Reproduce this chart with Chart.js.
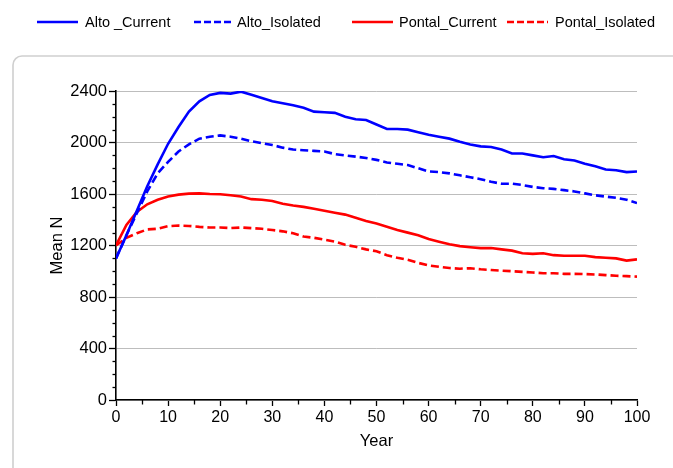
<!DOCTYPE html>
<html>
<head>
<meta charset="utf-8">
<script src="https://cdn.jsdelivr.net/npm/chart.js@4/dist/chart.umd.min.js"></script>
<style>
  html, body { margin: 0; padding: 0; background: #ffffff; }
  #wrap { position: relative; width: 673px; height: 468px; }
  canvas { display: block; }
</style>
</head>
<body>
<div id="wrap"><canvas id="c" width="673" height="468"></canvas></div>
<script>
// ---- data ----
const years = [0,2,4,6,8,10,12,14,16,18,20,22,24,26,28,30,32,34,36,38,40,42,44,46,48,50,52,54,56,58,60,62,64,66,68,70,72,74,76,78,80,82,84,86,88,90,92,94,96,98,100];

const altoCurrent = [1100,1280,1470,1660,1830,1990,2120,2240,2320,2370,2385,2380,2395,2370,2345,2320,2305,2290,2270,2240,2235,2230,2200,2180,2175,2140,2105,2105,2100,2080,2060,2045,2030,2005,1985,1970,1965,1945,1915,1915,1900,1885,1895,1870,1860,1835,1815,1790,1785,1770,1775];

const altoIsolated = [1100,1280,1450,1620,1760,1850,1930,1985,2030,2045,2055,2045,2030,2010,1995,1980,1960,1945,1940,1935,1930,1910,1900,1890,1880,1865,1845,1835,1825,1800,1775,1770,1760,1745,1730,1715,1695,1680,1680,1670,1655,1645,1640,1630,1620,1605,1590,1580,1570,1555,1530];

const pontalCurrent = [1200,1360,1460,1520,1555,1580,1595,1603,1605,1600,1598,1590,1580,1560,1555,1545,1525,1510,1500,1485,1470,1455,1440,1415,1390,1370,1345,1320,1300,1280,1250,1230,1210,1195,1187,1180,1180,1170,1160,1140,1135,1140,1125,1120,1120,1120,1110,1105,1100,1083,1092];

const pontalIsolated = [1200,1260,1295,1325,1330,1350,1355,1352,1345,1340,1340,1335,1340,1335,1330,1320,1310,1295,1270,1260,1245,1230,1205,1190,1170,1155,1125,1105,1090,1065,1045,1035,1025,1020,1023,1015,1010,1005,1000,995,990,985,985,980,980,978,975,970,965,962,958];

const seriesNames = ["Alto _Current", "Alto_Isolated", "Pontal_Current", "Pontal_Isolated"];
const yTickValues = [0, 400, 800, 1200, 1600, 2000, 2400];
const xTickValues = [0, 10, 20, 30, 40, 50, 60, 70, 80, 90, 100];

// ---- styling ----
const FONT = "'Liberation Sans', Arial, sans-serif";
const BLUE = "#0000ff";
const RED = "#ff0000";
const DASH = [8, 4];

function pts(vals) { return years.map((x, i) => ({ x: x, y: vals[i] })); }

function ds(label, vals, color, dashed) {
  return {
    label: label,
    data: pts(vals),
    borderColor: color,
    backgroundColor: color,
    borderWidth: 2.6,
    borderDash: dashed ? DASH : [],
    pointRadius: 0,
    pointHoverRadius: 0,
    tension: 0,
    fill: false
  };
}

// legend item horizontal placement (layout, not data)
const legendLayout = [
  { lineX: 37, lineW: 41, textX: 85 },
  { lineX: 194, lineW: 39, textX: 237 },
  { lineX: 352, lineW: 41, textX: 399 },
  { lineX: 507, lineW: 41, textX: 555 }
];
const LEGEND_Y = 22;

const framePlugin = {
  id: 'frame',
  beforeDraw(chart) {
    const ctx = chart.ctx;
    ctx.save();
    ctx.fillStyle = '#ffffff';
    ctx.fillRect(0, 0, chart.width, chart.height);
    ctx.strokeStyle = '#cfcfcf';
    ctx.lineWidth = 1.6;
    const x = 13, y = 56, r = 9;
    ctx.beginPath();
    ctx.moveTo(chart.width + 5, y);
    ctx.lineTo(x + r, y);
    ctx.arcTo(x, y, x, y + r, r);
    ctx.lineTo(x, chart.height + 5);
    ctx.stroke();
    ctx.restore();
  },
  afterDraw(chart) {
    const ctx = chart.ctx;
    ctx.save();
    // minor ticks
    const xs = chart.scales.x, ys = chart.scales.y;
    ctx.strokeStyle = '#000';
    ctx.lineWidth = 1.3;
    ctx.setLineDash([]);
    for (let v = 100; v < 2400; v += 100) {
      if (v % 400 === 0) continue;
      const py = Math.round(ys.getPixelForValue(v)) + 0.5;
      ctx.beginPath();
      ctx.moveTo(ys.right - 3.5, py);
      ctx.lineTo(ys.right, py);
      ctx.stroke();
    }
    for (let v = 5; v < 100; v += 10) {
      const px = Math.round(xs.getPixelForValue(v)) + 0.5;
      ctx.beginPath();
      ctx.moveTo(px, xs.top);
      ctx.lineTo(px, xs.top + 4.5);
      ctx.stroke();
    }
    // legend
    ctx.font = "14.5px " + FONT;
    ctx.textBaseline = 'middle';
    ctx.textAlign = 'left';
    chart.data.datasets.forEach((d, i) => {
      const L = legendLayout[i];
      ctx.strokeStyle = d.borderColor;
      ctx.lineWidth = 2.6;
      ctx.setLineDash(d.borderDash && d.borderDash.length ? [7, 3] : []);
      ctx.beginPath();
      ctx.moveTo(L.lineX, LEGEND_Y);
      ctx.lineTo(L.lineX + L.lineW, LEGEND_Y);
      ctx.stroke();
      ctx.setLineDash([]);
      ctx.fillStyle = '#000';
      ctx.fillText(d.label, L.textX, LEGEND_Y + 1);
    });
    ctx.restore();
  }
};

new Chart(document.getElementById('c'), {
  type: 'line',
  data: {
    datasets: [
      ds(seriesNames[0], altoCurrent, BLUE, false),
      ds(seriesNames[1], altoIsolated, BLUE, true),
      ds(seriesNames[2], pontalCurrent, RED, false),
      ds(seriesNames[3], pontalIsolated, RED, true)
    ]
  },
  options: {
    responsive: false,
    animation: false,
    events: [],
    layout: { padding: { top: 91, right: 36, bottom: 8, left: 0 } },
    plugins: {
      legend: { display: false },
      tooltip: { enabled: false },
      title: { display: false }
    },
    scales: {
      x: {
        type: 'linear',
        min: 0,
        max: 100,
        afterBuildTicks(scale) { scale.ticks = xTickValues.map(v => ({ value: v })); },
        afterFit(scale) { scale.height = 60; },
        ticks: {
          color: '#000',
          font: { family: FONT, size: 16 },
          padding: 2,
          maxRotation: 0,
          autoSkip: false,
          callback: (v) => String(v)
        },
        grid: {
          drawOnChartArea: false,
          drawTicks: true,
          tickLength: 6,
          tickColor: '#000',
          tickWidth: 1.3
        },
        border: { display: true, color: '#000', width: 1.6 },
        title: {
          display: true,
          text: 'Year',
          color: '#000',
          font: { family: FONT, size: 16.5 },
          padding: { top: 0, bottom: 9 }
        }
      },
      y: {
        type: 'linear',
        min: 0,
        max: 2400,
        afterBuildTicks(scale) { scale.ticks = yTickValues.map(v => ({ value: v })); },
        afterFit(scale) { scale.width = 116; },
        ticks: {
          color: '#000',
          font: { family: FONT, size: 16.5 },
          padding: 2,
          autoSkip: false,
          callback: (v) => String(v)
        },
        grid: {
          drawOnChartArea: true,
          drawTicks: true,
          color: '#bdbdbd',
          lineWidth: 1,
          borderDash: [2, 2],
          tickLength: 7,
          tickColor: '#000',
          tickWidth: 1.3,
          tickBorderDash: []
        },
        border: { display: true, color: '#000', width: 1.6, dash: [] },
        title: {
          display: true,
          text: 'Mean N',
          color: '#000',
          font: { family: FONT, size: 16.5 },
          padding: { top: 48, bottom: 0 }
        }
      }
    }
  },
  plugins: [framePlugin]
});
</script>
</body>
</html>
